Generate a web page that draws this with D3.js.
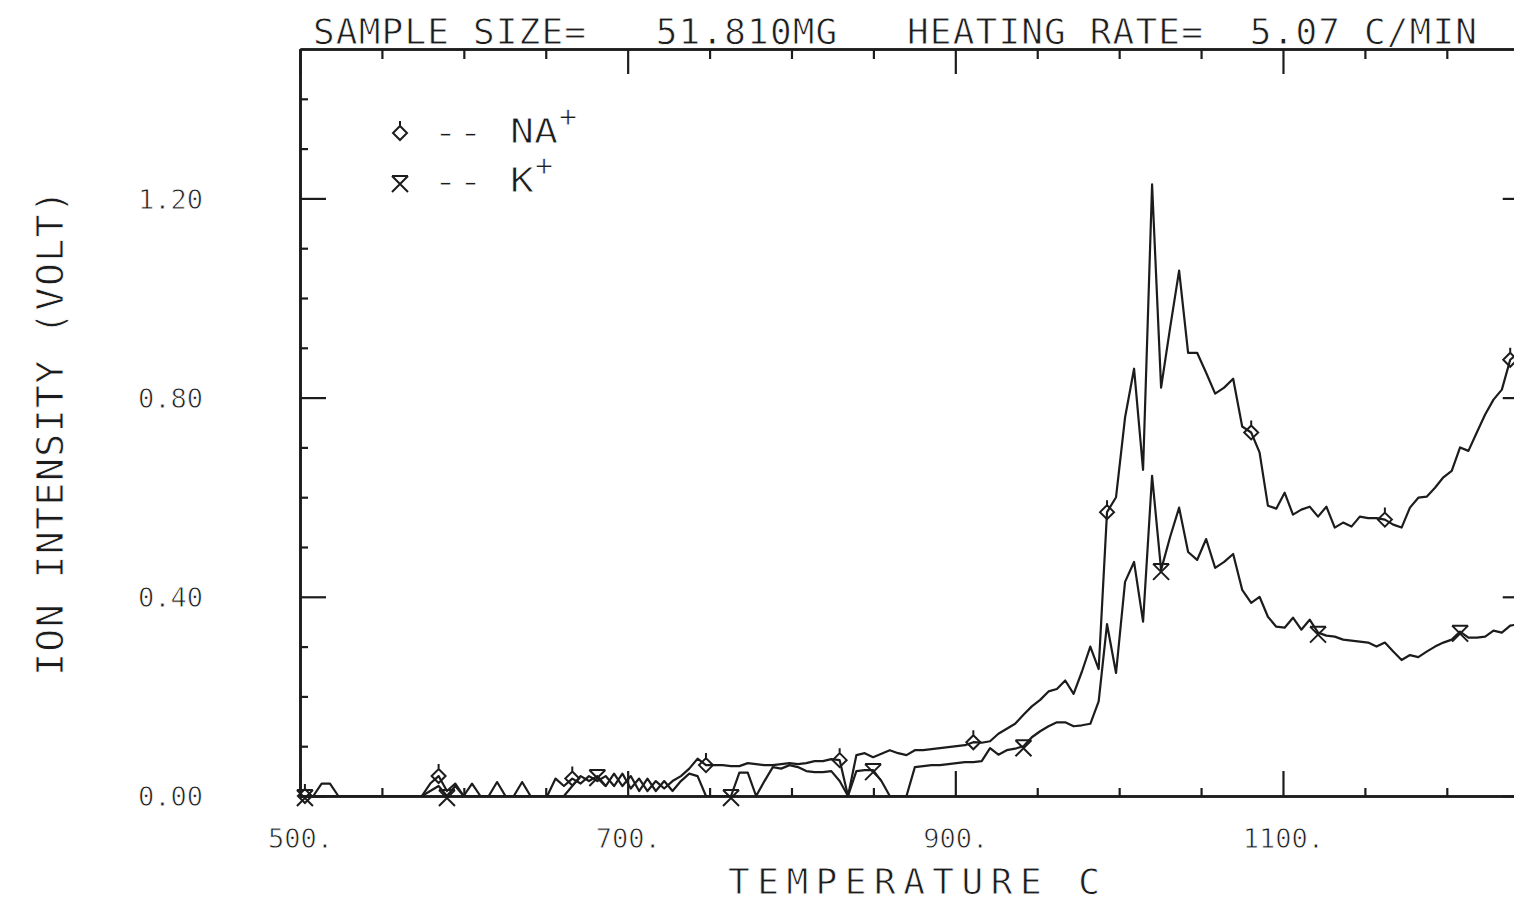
<!DOCTYPE html>
<html>
<head>
<meta charset="utf-8">
<script src="https://cdn.jsdelivr.net/npm/d3@7"></script>
<style>
  html, body { margin: 0; padding: 0; background: #fff; }
  svg { display: block; }
  .lbl { font-family: "DejaVu Sans Mono", monospace; fill: #1c1c1c; stroke: #fff; stroke-width: 0.8px; white-space: pre; }
  .axis path, .axis line { stroke: #1c1c1c; }
</style>
</head>
<body>
<svg id="chart"></svg>
<script>
// temperature of every reading (deg C), shared by both ion traces
const temps = [
  503.0, 508.1, 513.2, 518.3, 523.4, 528.5, 533.6, 538.7, 543.8, 548.9,
  554.0, 559.1, 564.2, 569.3, 574.4, 579.5, 584.6, 589.7, 594.8, 599.9,
  605.0, 610.1, 615.2, 620.3, 625.4, 630.5, 635.6, 640.7, 645.8, 650.9,
  656.0, 661.1, 666.2, 671.3, 676.4, 681.5, 686.6, 691.7, 696.8, 701.9,
  707.0, 712.1, 717.2, 722.3, 727.4, 732.5, 737.6, 742.7, 747.8, 752.9,
  758.0, 763.1, 768.2, 773.3, 778.4, 783.5, 788.6, 793.7, 798.8, 803.9,
  809.0, 814.1, 819.2, 824.3, 829.4, 834.5, 839.6, 844.7, 849.8, 854.9,
  860.0, 865.1, 870.2, 875.3, 880.4, 885.5, 890.6, 895.7, 900.8, 905.9,
  911.0, 916.1, 921.2, 926.3, 931.4, 936.5, 941.6, 946.7, 951.8, 956.9,
  962.0, 967.1, 972.2, 977.3, 982.4, 987.5, 992.6, 998.1, 1003.6, 1009.1,
  1014.6, 1020.1, 1025.6, 1031.1, 1036.6, 1042.1, 1047.6, 1053.1, 1058.6, 1064.1,
  1069.6, 1075.1, 1080.6, 1085.7, 1090.8, 1095.9, 1101.0, 1106.1, 1111.2, 1116.3,
  1121.4, 1126.5, 1131.6, 1136.7, 1141.8, 1146.9, 1152.0, 1157.1, 1162.2, 1167.3,
  1172.4, 1177.5, 1182.6, 1187.7, 1192.8, 1197.9, 1203.0, 1208.1, 1213.2, 1218.3,
  1223.4, 1228.5, 1233.6, 1238.7, 1243.8, 1248.9
];

const naIon = [
  0.0, 0.0, 0.025, 0.025, 0.0, 0.0, 0.0, 0.0, 0.0, 0.0,
  0.0, 0.0, 0.0, 0.0, 0.0, 0.025, 0.04, 0.01, 0.025, 0.0,
  0.025, 0.0, 0.0, 0.028, 0.0, 0.0, 0.028, 0.0, 0.0, 0.0,
  0.035, 0.02, 0.035, 0.025, 0.04, 0.03, 0.04, 0.02, 0.045, 0.015,
  0.035, 0.01, 0.03, 0.015, 0.03, 0.04, 0.055, 0.075, 0.062, 0.062,
  0.062, 0.06, 0.06, 0.066, 0.064, 0.062, 0.062, 0.064, 0.066, 0.064,
  0.066, 0.07, 0.07, 0.074, 0.072, 0.0, 0.082, 0.086, 0.078, 0.085,
  0.092, 0.086, 0.082, 0.092, 0.092, 0.094, 0.096, 0.098, 0.1, 0.102,
  0.108, 0.107, 0.11, 0.125, 0.135, 0.145, 0.163, 0.18, 0.193, 0.21,
  0.215, 0.232, 0.205, 0.25, 0.30, 0.255, 0.57, 0.60, 0.76, 0.858,
  0.655, 1.228, 0.82, 0.94, 1.055, 0.89, 0.89, 0.85, 0.808, 0.82,
  0.838, 0.742, 0.73, 0.69, 0.583, 0.577, 0.609, 0.565, 0.575, 0.581,
  0.561, 0.581, 0.539, 0.549, 0.541, 0.561, 0.558, 0.558, 0.555, 0.545,
  0.539, 0.579, 0.599, 0.601, 0.619, 0.64, 0.653, 0.70, 0.693, 0.73,
  0.766, 0.796, 0.816, 0.876, 0.89, 0.91
];

const kIon = [
  0.0, 0.0, 0.0, 0.0, 0.0, 0.0, 0.0, 0.0, 0.0, 0.0,
  0.0, 0.0, 0.0, 0.0, 0.0, 0.01, 0.02, 0.0, 0.02, 0.0,
  0.0, 0.0, 0.0, 0.0, 0.0, 0.0, 0.0, 0.0, 0.0, 0.0,
  0.0, 0.0, 0.02, 0.04, 0.03, 0.04, 0.02, 0.045, 0.02, 0.04,
  0.01, 0.035, 0.01, 0.03, 0.01, 0.03, 0.045, 0.04, 0.0, 0.0,
  0.0, 0.0, 0.047, 0.047, 0.0, 0.03, 0.058, 0.055, 0.062, 0.058,
  0.05, 0.048, 0.048, 0.05, 0.03, 0.0, 0.05, 0.052, 0.052, 0.03,
  0.0, 0.0, 0.0, 0.058, 0.06, 0.062, 0.062, 0.064, 0.066, 0.068,
  0.068, 0.07, 0.096, 0.083, 0.092, 0.095, 0.1, 0.118, 0.13, 0.14,
  0.148, 0.148, 0.14, 0.142, 0.145, 0.19, 0.345, 0.247, 0.43, 0.47,
  0.35, 0.643, 0.454, 0.52, 0.579, 0.49, 0.474, 0.516, 0.458, 0.47,
  0.486, 0.414, 0.388, 0.40, 0.36, 0.34, 0.338, 0.358, 0.334, 0.354,
  0.328, 0.322, 0.32, 0.314, 0.312, 0.31, 0.308, 0.30, 0.308, 0.29,
  0.273, 0.283, 0.279, 0.29, 0.30, 0.308, 0.314, 0.33, 0.318, 0.318,
  0.32, 0.332, 0.328, 0.342, 0.345, 0.35
];

// reading indices that carry a plot symbol
const naMarks = [0, 16, 32, 48, 64, 80, 96, 112, 128, 143];
const kMarks = [0, 17, 35, 51, 68, 86, 102, 120, 137];

const xMajor = [500, 700, 900, 1100];
const xMinor = [550, 600, 650, 750, 800, 850, 950, 1000, 1050, 1150, 1200];
const yMajor = [0, 0.4, 0.8, 1.2];
const yMinor = [0.1, 0.2, 0.3, 0.5, 0.6, 0.7, 0.9, 1.0, 1.1, 1.3, 1.4];

const titleText = "SAMPLE SIZE=   51.810MG   HEATING RATE=  5.07 C/MIN";
const xTitle = "TEMPERATURE C";
const yTitle = "ION INTENSITY (VOLT)";
const legendNames = ["NA", "K"];

const width = 1514, height = 904;
const plotLeft = 300, plotTop = 49, plotBottom = 796;
const plotRight = 300 + 750 * 1.6383;

const diamondPath = "M0,-12V-7M0,-7L7,0L0,7L-7,0Z";
const xbarPath = "M-8,-6H8M-8,-6L8,10M8,-6L-8,10";

const svg = d3.select('#chart')
  .attr('width', width)
  .attr('height', height);

svg.append('rect').attr('width', width).attr('height', height).attr('fill', '#fff');

const x = d3.scaleLinear().domain([500, 1250]).range([plotLeft, plotRight]);
const y = d3.scaleLinear().domain([0, 1.5]).range([plotBottom, plotTop]);

function tickRow(axisFn, scale, values, size, transform) {
  svg.append('g')
    .attr('class', 'axis')
    .attr('transform', transform)
    .call(axisFn(scale).tickValues(values).tickSize(size).tickSizeOuter(0).tickFormat(''))
    .call(g => g.select('.domain').attr('stroke-width', 2.6))
    .call(g => g.selectAll('.tick line').attr('stroke-width', 2.2));
}

// frame: ticks point into the plot on all four sides
tickRow(d3.axisRight, y, yMinor, 8, `translate(${plotLeft},0)`);
tickRow(d3.axisRight, y, yMajor, 26, `translate(${plotLeft},0)`);
tickRow(d3.axisLeft, y, yMinor, 8, `translate(${plotRight},0)`);
tickRow(d3.axisLeft, y, yMajor, 26, `translate(${plotRight},0)`);
tickRow(d3.axisTop, x, xMinor, 8, `translate(0,${plotBottom})`);
tickRow(d3.axisTop, x, xMajor, 25, `translate(0,${plotBottom})`);
tickRow(d3.axisBottom, x, xMinor, 10, `translate(0,${plotTop})`);
tickRow(d3.axisBottom, x, xMajor, 25, `translate(0,${plotTop})`);

// tick labels
svg.append('g')
  .attr('transform', `translate(${plotLeft},0)`)
  .call(d3.axisLeft(y).tickValues(yMajor).tickSize(0).tickPadding(97).tickFormat(d3.format('.2f')))
  .call(g => g.select('.domain').remove())
  .attr('font-size', 27)
  .attr('font-family', null)
  .selectAll('text')
  .attr('class', 'lbl')
  .attr('dy', '0.36em');

svg.append('g')
  .attr('transform', `translate(0,${plotBottom})`)
  .call(d3.axisBottom(x).tickValues(xMajor).tickSize(0).tickPadding(33).tickFormat(d => d + '.'))
  .call(g => g.select('.domain').remove())
  .attr('font-size', 27)
  .attr('font-family', null)
  .selectAll('text')
  .attr('class', 'lbl');

// titles
svg.append('text')
  .attr('class', 'lbl')
  .attr('x', 313)
  .attr('y', 44)
  .attr('font-size', 36)
  .attr('textLength', 1164)
  .attr('lengthAdjust', 'spacing')
  .text(titleText);

svg.append('text')
  .attr('class', 'lbl')
  .attr('x', 728)
  .attr('y', 894)
  .attr('font-size', 36)
  .attr('textLength', 372)
  .attr('lengthAdjust', 'spacing')
  .text(xTitle);

svg.append('text')
  .attr('class', 'lbl')
  .attr('transform', 'translate(63,676) rotate(-90)')
  .attr('font-size', 38)
  .attr('textLength', 486)
  .attr('lengthAdjust', 'spacing')
  .text(yTitle);

// traces
svg.append('clipPath').attr('id', 'plotclip')
  .append('rect')
  .attr('x', plotLeft).attr('y', plotTop)
  .attr('width', plotRight - plotLeft).attr('height', plotBottom - plotTop + 4);

const line = d3.line()
  .x((d, i) => x(temps[i]))
  .y(d => y(d));

const traces = [
  { values: naIon, marks: naMarks, sym: diamondPath },
  { values: kIon, marks: kMarks, sym: xbarPath }
];

traces.forEach(t => {
  svg.append('path')
    .datum(t.values)
    .attr('clip-path', 'url(#plotclip)')
    .attr('fill', 'none')
    .attr('stroke', '#1c1c1c')
    .attr('stroke-width', 2.2)
    .attr('stroke-linejoin', 'round')
    .attr('d', line);

  svg.append('g')
    .selectAll('path')
    .data(t.marks)
    .join('path')
    .attr('transform', i => `translate(${x(temps[i])},${y(t.values[i])})`)
    .attr('d', t.sym)
    .attr('fill', 'none')
    .attr('stroke', '#1c1c1c')
    .attr('stroke-width', 2);
});

// legend
const legend = svg.append('g');
legendNames.forEach((name, k) => {
  const ly = 133 + k * 49;
  const nameWidth = 24 * name.length;
  legend.append('path')
    .attr('transform', `translate(400,${ly})`)
    .attr('d', traces[k].sym)
    .attr('fill', 'none')
    .attr('stroke', '#1c1c1c')
    .attr('stroke-width', 2);
  legend.append('text')
    .attr('class', 'lbl')
    .attr('x', 433)
    .attr('y', ly + 10)
    .attr('font-size', 31)
    .attr('textLength', 50)
    .attr('lengthAdjust', 'spacingAndGlyphs')
    .text('--');
  legend.append('text')
    .attr('class', 'lbl')
    .attr('x', 510)
    .attr('y', ly + 10)
    .attr('font-size', 33)
    .attr('textLength', nameWidth)
    .attr('lengthAdjust', 'spacingAndGlyphs')
    .text(name);
  legend.append('text')
    .attr('class', 'lbl')
    .attr('x', 510 + nameWidth + 1)
    .attr('y', ly - 6)
    .attr('font-size', 30)
    .text('+');
});
</script>
</body>
</html>
